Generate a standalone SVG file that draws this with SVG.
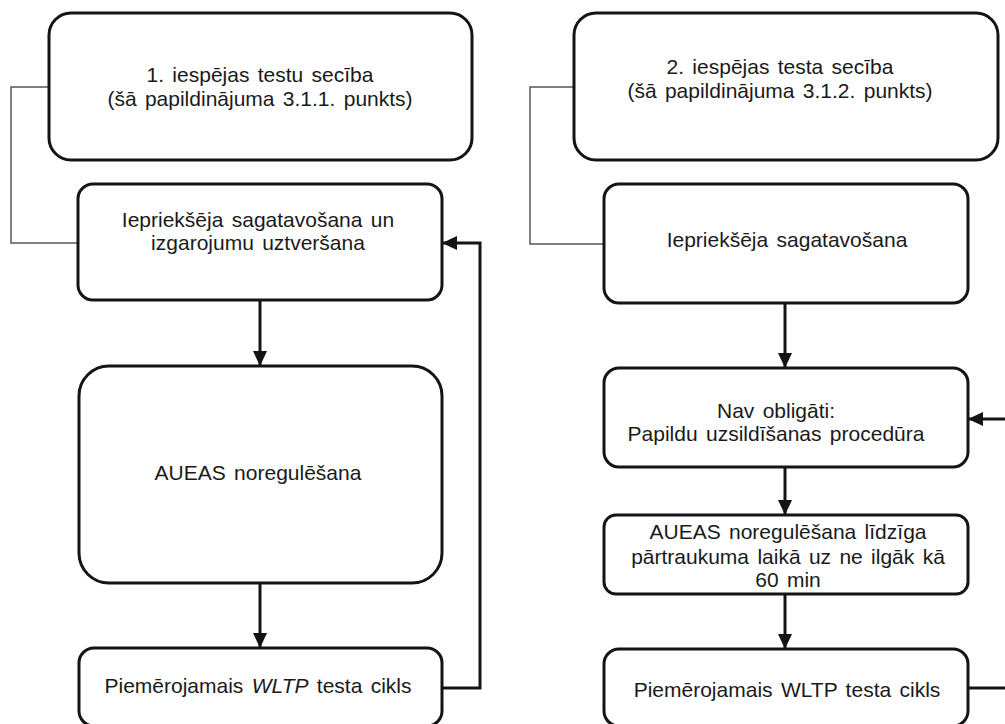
<svg xmlns="http://www.w3.org/2000/svg" width="1005" height="724" viewBox="0 0 1005 724">
  <defs>
    <marker id="arrow" markerUnits="userSpaceOnUse" markerWidth="15" markerHeight="14" refX="15" refY="7" orient="auto">
      <path d="M0,0 L15,7 L0,14 z" fill="#141414"/>
    </marker>
    <style>
      .box { fill: #ffffff; stroke: #141414; stroke-width: 3; }
      .lbl { font-family: "Liberation Sans", Arial, sans-serif; font-size: 21px; fill: #1a1a1a; text-anchor: middle; word-spacing: 2.5px; }
      .flow { fill: none; stroke: #141414; stroke-width: 3; }
      .bracket { fill: none; stroke: #555555; stroke-width: 1.5; }
    </style>
  </defs>
  <rect width="1005" height="724" fill="#ffffff"/>

  <!-- connectors -->
  <g id="connectors">
    <!-- option 1 -->
    <polyline class="bracket" points="49,87 11,87 11,243 78,243"/>
    <line class="flow" x1="260" y1="300" x2="260" y2="366" marker-end="url(#arrow)"/>
    <line class="flow" x1="260" y1="583" x2="260" y2="648" marker-end="url(#arrow)"/>
    <polyline class="flow" points="442,688 480,688 480,243 442,243" marker-end="url(#arrow)"/>
    <!-- option 2 -->
    <polyline class="bracket" points="574,87 530,87 530,244 604,244"/>
    <line class="flow" x1="785" y1="303" x2="785" y2="368" marker-end="url(#arrow)"/>
    <line class="flow" x1="785" y1="467" x2="785" y2="515" marker-end="url(#arrow)"/>
    <line class="flow" x1="785" y1="594" x2="785" y2="649" marker-end="url(#arrow)"/>
    <line class="flow" x1="1008" y1="419" x2="968" y2="419" marker-end="url(#arrow)"/>
    <line class="flow" x1="968" y1="688" x2="1008" y2="688"/>
  </g>

  <!-- option 1 column -->
  <g id="a1">
    <rect class="box" x="49" y="13" width="423" height="147" rx="22"/>
    <text class="lbl" x="260" y="82">1. iespējas testu secība</text>
    <text class="lbl" x="260" y="106">(šā papildinājuma 3.1.1. punkts)</text>
  </g>
  <g id="a2">
    <rect class="box" x="78" y="184" width="364" height="116" rx="15"/>
    <text class="lbl" x="258" y="227">Iepriekšēja sagatavošana un</text>
    <text class="lbl" x="258" y="250">izgarojumu uztveršana</text>
  </g>
  <g id="a3">
    <rect class="box" x="79" y="366" width="363" height="217" rx="30"/>
    <text class="lbl" x="258" y="480">AUEAS noregulēšana</text>
  </g>
  <g id="a4">
    <rect class="box" x="79" y="648" width="363" height="78" rx="15"/>
    <text class="lbl" x="258" y="693">Piemērojamais <tspan font-style="italic">WLTP</tspan> testa cikls</text>
  </g>

  <!-- option 2 column -->
  <g id="b1">
    <rect class="box" x="574" y="13" width="424" height="147" rx="22"/>
    <text class="lbl" x="780" y="74">2. iespējas testa secība</text>
    <text class="lbl" x="780" y="98">(šā papildinājuma 3.1.2. punkts)</text>
  </g>
  <g id="b2">
    <rect class="box" x="604" y="184" width="364" height="119" rx="15"/>
    <text class="lbl" x="787" y="247">Iepriekšēja sagatavošana</text>
  </g>
  <g id="b3">
    <rect class="box" x="604" y="368" width="364" height="99" rx="15"/>
    <text class="lbl" x="776" y="418">Nav obligāti:</text>
    <text class="lbl" x="776" y="441">Papildu uzsildīšanas procedūra</text>
  </g>
  <g id="b4">
    <rect class="box" x="604" y="515" width="364" height="79" rx="12"/>
    <text class="lbl" x="788" y="539">AUEAS noregulēšana līdzīga</text>
    <text class="lbl" x="788" y="564">pārtraukuma laikā uz ne ilgāk kā</text>
    <text class="lbl" x="788" y="587">60 min</text>
  </g>
  <g id="b5">
    <rect class="box" x="604" y="649" width="364" height="77" rx="15"/>
    <text class="lbl" x="787" y="697">Piemērojamais WLTP testa cikls</text>
  </g>
</svg>
